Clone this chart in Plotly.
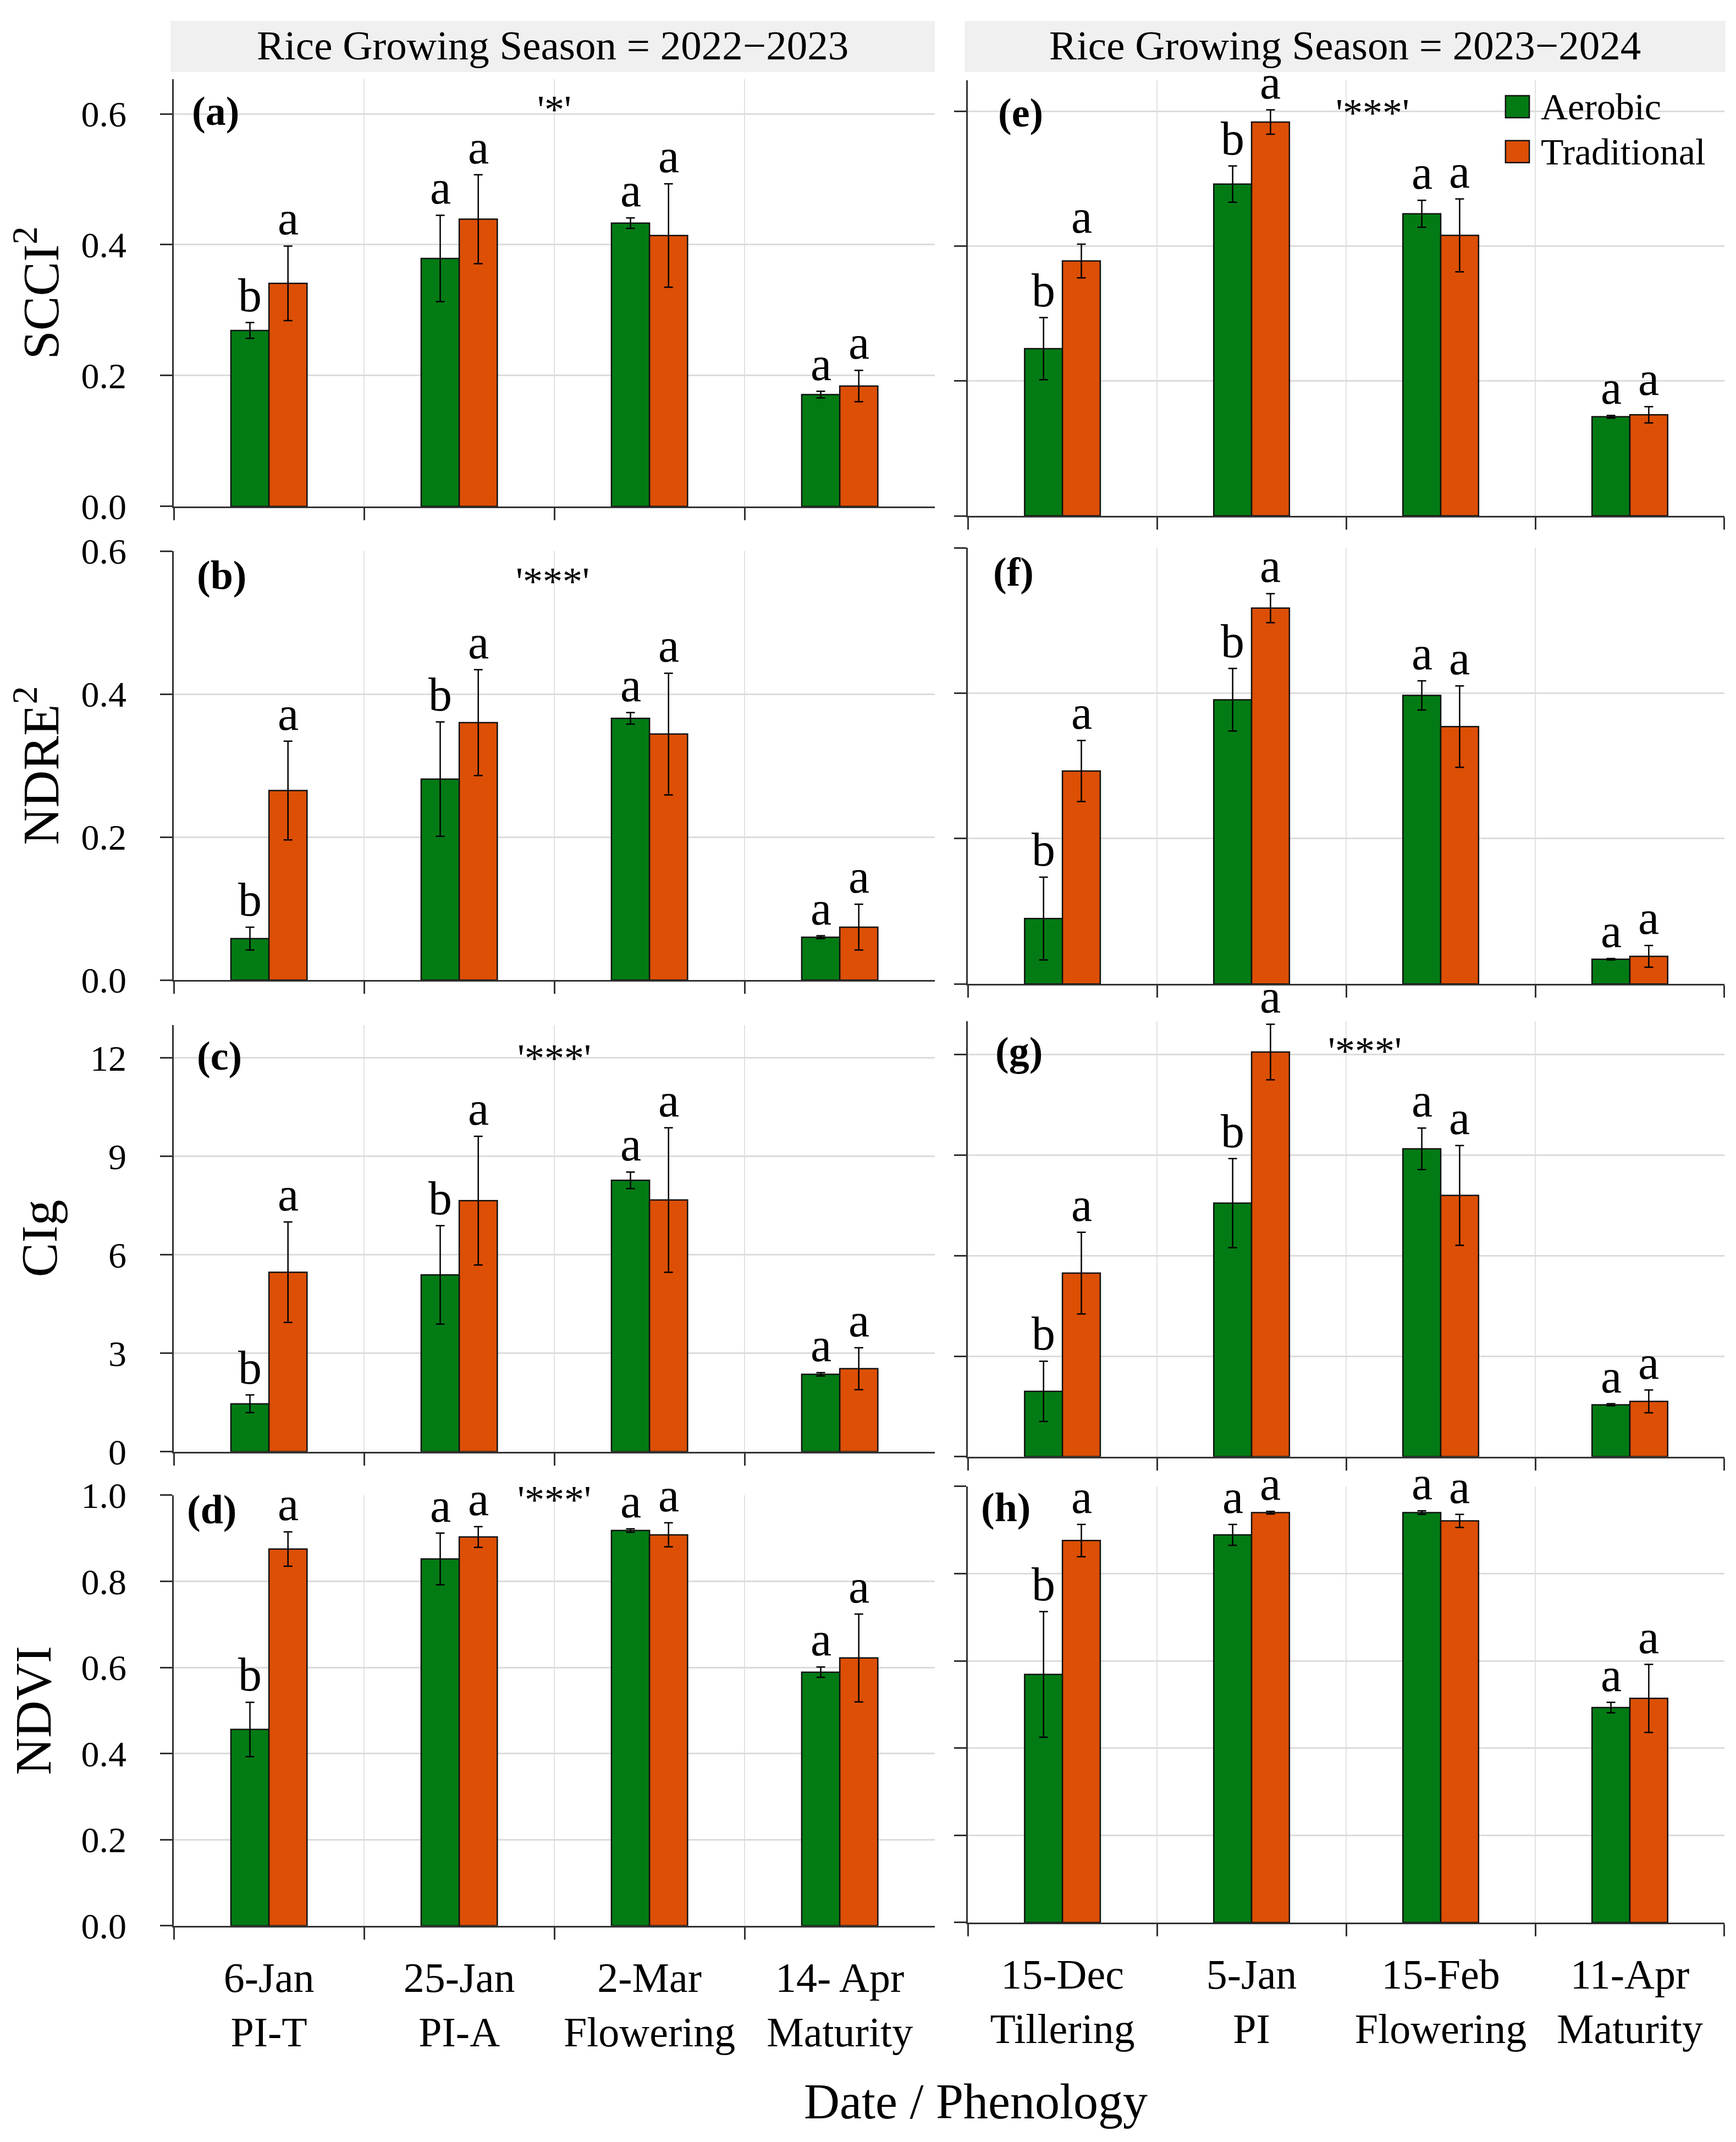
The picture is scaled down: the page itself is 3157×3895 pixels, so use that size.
import plotly.graph_objects as go
from plotly.subplots import make_subplots

# ---------------- data ----------------
seasons = ["Rice Growing Season = 2022−2023", "Rice Growing Season = 2023−2024"]
dates_2022 = ["6-Jan<br>PI-T", "25-Jan<br>PI-A", "2-Mar<br>Flowering", "14- Apr<br>Maturity"]
dates_2023 = ["15-Dec<br>Tillering", "5-Jan<br>PI", "15-Feb<br>Flowering", "11-Apr<br>Maturity"]
treatments = ["Aerobic", "Traditional"]

# SCCI²
scci_2022_aer = [0.269, 0.379, 0.433, 0.171]
scci_2022_aer_se = [0.012, 0.066, 0.008, 0.005]
scci_2022_tra = [0.341, 0.439, 0.414, 0.184]
scci_2022_tra_se = [0.057, 0.068, 0.079, 0.024]
scci_2023_aer = [0.248, 0.492, 0.448, 0.147]
scci_2023_aer_se = [0.046, 0.027, 0.020, 0.002]
scci_2023_tra = [0.378, 0.584, 0.416, 0.150]
scci_2023_tra_se = [0.025, 0.018, 0.054, 0.012]

# NDRE²
ndre_2022_aer = [0.058, 0.281, 0.366, 0.060]
ndre_2022_aer_se = [0.016, 0.080, 0.008, 0.002]
ndre_2022_tra = [0.265, 0.360, 0.344, 0.074]
ndre_2022_tra_se = [0.069, 0.074, 0.085, 0.032]
ndre_2023_aer = [0.090, 0.391, 0.397, 0.034]
ndre_2023_aer_se = [0.057, 0.043, 0.020, 0.001]
ndre_2023_tra = [0.293, 0.517, 0.354, 0.038]
ndre_2023_tra_se = [0.042, 0.020, 0.056, 0.015]

# CIg
cig_2022_aer = [1.46, 5.39, 8.27, 2.36]
cig_2022_aer_se = [0.27, 1.50, 0.25, 0.05]
cig_2022_tra = [5.47, 7.65, 7.67, 2.53]
cig_2022_tra_se = [1.53, 1.96, 2.20, 0.64]
cig_2023_aer = [1.95, 7.57, 9.19, 1.55]
cig_2023_aer_se = [0.90, 1.33, 0.62, 0.03]
cig_2023_tra = [5.48, 12.08, 7.80, 1.65]
cig_2023_tra_se = [1.22, 0.83, 1.49, 0.34]

# NDVI
ndvi_2022_aer = [0.456, 0.852, 0.918, 0.589]
ndvi_2022_aer_se = [0.063, 0.060, 0.004, 0.012]
ndvi_2022_tra = [0.875, 0.903, 0.908, 0.622]
ndvi_2022_tra_se = [0.040, 0.024, 0.028, 0.102]
ndvi_2023_aer = [0.569, 0.889, 0.940, 0.493]
ndvi_2023_aer_se = [0.144, 0.024, 0.004, 0.012]
ndvi_2023_tra = [0.876, 0.940, 0.921, 0.514]
ndvi_2023_tra_se = [0.037, 0.003, 0.015, 0.078]

# letters (Aerobic / Traditional)
letters_2022_aer = {"scci": ["b", "a", "a", "a"], "ndre": ["b", "b", "a", "a"],
                    "cig": ["b", "b", "a", "a"], "ndvi": ["b", "a", "a", "a"]}
letters_2023_aer = {"scci": ["b", "b", "a", "a"], "ndre": ["b", "b", "a", "a"],
                    "cig": ["b", "b", "a", "a"], "ndvi": ["b", "a", "a", "a"]}
letters_tra = ["a", "a", "a", "a"]
signif = {"a": "'*'", "b": "'***'", "c": "'***'", "d": "'***'",
          "e": "'***'", "f": "'***'", "g": "'***'", "h": "'***'"}

GREEN = "#037B14"
ORANGE = "#DC4F05"
FONT = "Liberation Serif"

panels = [
    # tag, row, col, cats, aer, aer_se, tra, tra_se, letters
    ("a", 1, 1, dates_2022, scci_2022_aer, scci_2022_aer_se, scci_2022_tra, scci_2022_tra_se, letters_2022_aer["scci"]),
    ("e", 1, 2, dates_2023, scci_2023_aer, scci_2023_aer_se, scci_2023_tra, scci_2023_tra_se, letters_2023_aer["scci"]),
    ("b", 2, 1, dates_2022, ndre_2022_aer, ndre_2022_aer_se, ndre_2022_tra, ndre_2022_tra_se, letters_2022_aer["ndre"]),
    ("f", 2, 2, dates_2023, ndre_2023_aer, ndre_2023_aer_se, ndre_2023_tra, ndre_2023_tra_se, letters_2023_aer["ndre"]),
    ("c", 3, 1, dates_2022, cig_2022_aer, cig_2022_aer_se, cig_2022_tra, cig_2022_tra_se, letters_2022_aer["cig"]),
    ("g", 3, 2, dates_2023, cig_2023_aer, cig_2023_aer_se, cig_2023_tra, cig_2023_tra_se, letters_2023_aer["cig"]),
    ("d", 4, 1, dates_2022, ndvi_2022_aer, ndvi_2022_aer_se, ndvi_2022_tra, ndvi_2022_tra_se, letters_2022_aer["ndvi"]),
    ("h", 4, 2, dates_2023, ndvi_2023_aer, ndvi_2023_aer_se, ndvi_2023_tra, ndvi_2023_tra_se, letters_2023_aer["ndvi"]),
]

# layout per panel: x domain, y domain, y range, dtick, label pos, signif pos
style = {
    "a": dict(xd=[0.0976, 0.5360], yd=[0.7656, 0.9651], yr=[0, 0.653], dt=0.2, lab=(-0.28, 0.604), sig=(1.5, 0.607)),
    "e": dict(xd=[0.5550, 0.9908], yd=[0.7612, 0.9646], yr=[0, 0.646], dt=0.2, lab=(-0.22, 0.598), sig=(1.64, 0.598)),
    "b": dict(xd=[0.0976, 0.5360], yd=[0.5445, 0.7448], yr=[0, 0.6], dt=0.2, lab=(-0.25, 0.566), sig=(1.49, 0.558)),
    "f": dict(xd=[0.5550, 0.9908], yd=[0.5427, 0.7463], yr=[0, 0.6], dt=0.2, lab=(-0.26, 0.567), sig=(1.62, 0.602)),
    "c": dict(xd=[0.0976, 0.5360], yd=[0.3243, 0.5235], yr=[0, 13], dt=3, lab=(-0.26, 12.06), sig=(1.5, 12.0)),
    "g": dict(xd=[0.5550, 0.9908], yd=[0.3220, 0.5253], yr=[0, 13], dt=3, lab=(-0.23, 12.1), sig=(1.60, 12.11)),
    "d": dict(xd=[0.0976, 0.5360], yd=[0.1030, 0.3040], yr=[0, 1.0], dt=0.2, lab=(-0.30, 0.967), sig=(1.5, 0.99)),
    "h": dict(xd=[0.5550, 0.9908], yd=[0.1045, 0.3081], yr=[0, 1.0], dt=0.2, lab=(-0.30, 0.952), sig=(1.52, 1.006)),
}
ytitles = {1: "SCCI<sup>2</sup>", 2: "NDRE<sup>2</sup>", 3: "CIg", 4: "NDVI"}

fig = make_subplots(rows=4, cols=2)

annotations = []
for tag, row, col, cats, aer, aer_se, tra, tra_se, let_aer in panels:
    st = style[tag]
    fig.add_trace(go.Bar(
        x=cats, y=aer, name=treatments[0], marker=dict(color=GREEN, line=dict(color="#111", width=2.5)),
        error_y=dict(type="data", array=aer_se, color="black", thickness=2.5, width=8),
    ), row=row, col=col)
    fig.add_trace(go.Bar(
        x=cats, y=tra, name=treatments[1], marker=dict(color=ORANGE, line=dict(color="#111", width=2.5)),
        error_y=dict(type="data", array=tra_se, color="black", thickness=2.5, width=8),
    ), row=row, col=col)

    idx = (row - 1) * 2 + col
    xref = "x" if idx == 1 else f"x{idx}"
    yref = "y" if idx == 1 else f"y{idx}"

    # mean-separation letters above the error bars
    for i in range(len(cats)):
        for off, val, se, let in ((-0.1, aer[i], aer_se[i], let_aer[i]), (0.1, tra[i], tra_se[i], letters_tra[i])):
            annotations.append(dict(x=i + off, y=val + se, xref=xref, yref=yref, text=let,
                                    showarrow=False, xanchor="center", yanchor="bottom", yshift=0,
                                    font=dict(family=FONT, size=86, color="black")))
    # panel tag and significance
    annotations.append(dict(x=st["lab"][0], y=st["lab"][1], xref=xref, yref=yref, text=f"<b>({tag})</b>",
                            showarrow=False, xanchor="center", yanchor="middle",
                            font=dict(family=FONT, size=74, color="black")))
    annotations.append(dict(x=st["sig"][0], y=st["sig"][1], xref=xref, yref=yref, text=signif[tag],
                            showarrow=False, xanchor="center", yanchor="middle",
                            font=dict(family=FONT, size=72, color="black")))

    fig.update_xaxes(domain=st["xd"], range=[-0.5, 3.5], type="category", tickson="boundaries",
                     ticks="outside", ticklen=22, tickwidth=3, tickcolor="#333",
                     showline=True, linecolor="#333", linewidth=3,
                     showgrid=True, gridcolor="#E2E2E2", gridwidth=2, automargin=False,
                     showticklabels=(row == 4), ticklabelstandoff=26,
                     tickfont=dict(family=FONT, size=76, color="black"),
                     row=row, col=col)
    fig.update_yaxes(domain=st["yd"], range=st["yr"], dtick=st["dt"], tick0=0,
                     tickformat=".1f" if st["dt"] < 1 else "d",
                     ticks="outside", ticklen=22, tickwidth=3, tickcolor="#333",
                     showline=True, linecolor="#333", linewidth=3, automargin=False,
                     showgrid=True, gridcolor="#DCDCDC", gridwidth=3, zeroline=False,
                     showticklabels=(col == 1), ticklabelstandoff=48,
                     tickfont=dict(family=FONT, size=66, color="black"),
                     row=row, col=col)
    if col == 1:
        fig.update_yaxes(title=dict(text=ytitles[row], standoff=30,
                                    font=dict(family=FONT, size=94, color="black")),
                         row=row, col=col)

# facet strips
shapes = []
for x0, x1, text in ((0.0957, 0.5360, seasons[0]), (0.5531, 0.9914, seasons[1])):
    shapes.append(dict(type="rect", xref="paper", yref="paper", x0=x0, x1=x1, y0=0.9684, y1=0.9923,
                       fillcolor="#F0F0F0", line=dict(width=0), layer="below"))
    annotations.append(dict(x=(x0 + x1) / 2, y=0.9810, xref="paper", yref="paper", text=text, showarrow=False,
                            xanchor="center", yanchor="middle",
                            font=dict(family=FONT, size=75, color="black")))

# legend (drawn manually so the swatches match the size of the original)
for y0, color, name in ((0.9471, GREEN, treatments[0]), (0.9261, ORANGE, treatments[1])):
    shapes.append(dict(type="rect", xref="paper", yref="paper", x0=0.8647, x1=0.8784, y0=y0, y1=y0 + 0.0103,
                       fillcolor=color, line=dict(color="#111", width=2.5)))
    annotations.append(dict(x=0.8844, y=y0 + 0.0052, xref="paper", yref="paper", text=name, showarrow=False,
                            xanchor="left", yanchor="middle", font=dict(family=FONT, size=68, color="black")))

annotations.append(dict(x=0.5594, y=0.0208, xref="paper", yref="paper", text="Date / Phenology",
                        showarrow=False, xanchor="center", yanchor="middle",
                        font=dict(family=FONT, size=90, color="black")))

fig.update_layout(
    width=3157, height=3895, margin=dict(l=0, r=0, t=0, b=0, autoexpand=False),
    plot_bgcolor="white", paper_bgcolor="white",
    barmode="group", bargap=0.6, bargroupgap=0, showlegend=False,
    font=dict(family=FONT, color="black"),
    annotations=annotations, shapes=shapes,
)

fig.write_html("out.html")
